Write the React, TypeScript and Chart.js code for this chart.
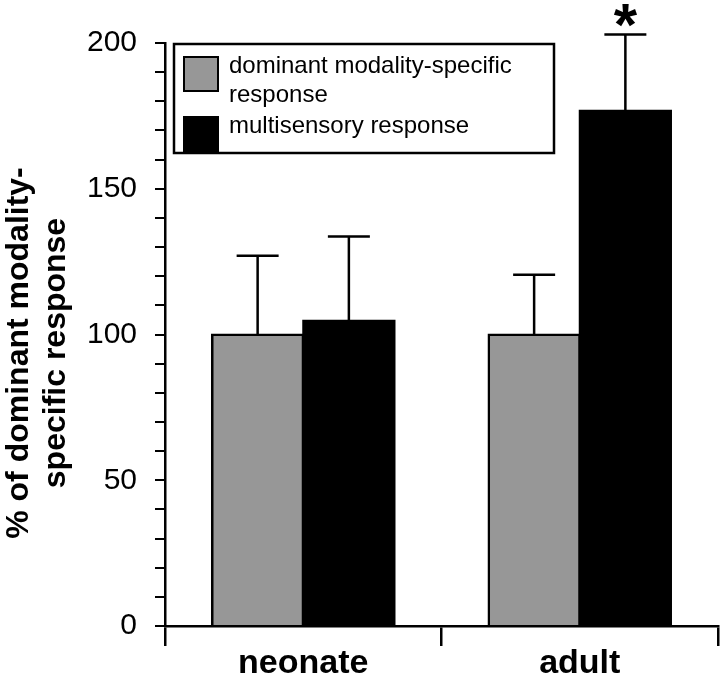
import React, { useEffect, useRef } from 'react';
import { Chart, registerables } from 'chart.js';

Chart.register(...registerables);

// ---- data ----
const categories = ['neonate', 'adult'];
const dominantValues = [100, 100];
const dominantErrors = [27, 20.5];
const multisensoryValues = [104.7, 176.8];
const multisensoryErrors = [28.9, 26.1];
const multisensorySignificant = [false, true];
const yLabelTicks = [0, 50, 100, 150, 200];
const legendLines = [['dominant modality-specific', 'response'], ['multisensory response']];
const yTitleLines = ['% of dominant modality-', 'specific response'];

const FONT = "'Liberation Sans', Arial, Helvetica, sans-serif";

const errorBarPlugin = {
  id: 'errorBars',
  afterDatasetsDraw(chart: any) {
    const ctx = chart.ctx;
    const y = chart.scales.y;
    chart.data.datasets.forEach((ds: any, di: number) => {
      const meta = chart.getDatasetMeta(di);
      meta.data.forEach((bar: any, i: number) => {
        const v = ds.data[i];
        const base = y.getPixelForValue(v);
        const top = y.getPixelForValue(v + ds.errors[i]);
        ctx.save();
        ctx.strokeStyle = '#000';
        ctx.lineWidth = 2.5;
        ctx.beginPath();
        ctx.moveTo(bar.x, base);
        ctx.lineTo(bar.x, top);
        ctx.moveTo(bar.x - 21, top);
        ctx.lineTo(bar.x + 21, top);
        ctx.stroke();
        if (ds.significant && ds.significant[i]) {
          ctx.fillStyle = '#000';
          ctx.font = `bold 60px ${FONT}`;
          ctx.textAlign = 'center';
          ctx.textBaseline = 'alphabetic';
          ctx.fillText('*', bar.x, top + 10);
        }
        ctx.restore();
      });
    });
  },
};

const legendPlugin = {
  id: 'boxLegend',
  afterDraw(chart: any, _args: any, opts: any) {
    const ctx = chart.ctx;
    ctx.save();
    ctx.strokeStyle = '#000';
    ctx.lineWidth = 2.5;
    ctx.fillStyle = '#fff';
    ctx.fillRect(opts.x, opts.y, opts.w, opts.h);
    ctx.strokeRect(opts.x, opts.y, opts.w, opts.h);
    ctx.font = `24px ${FONT}`;
    ctx.textAlign = 'left';
    ctx.textBaseline = 'alphabetic';
    let baseline = opts.y + 29;
    chart.data.datasets.forEach((ds: any, di: number) => {
      const sy = baseline - 16;
      ctx.fillStyle = ds.backgroundColor;
      ctx.fillRect(opts.x + 10, sy, 34, 34);
      ctx.lineWidth = 2;
      ctx.strokeRect(opts.x + 10, sy, 34, 34);
      ctx.fillStyle = '#000';
      legendLines[di].forEach((line, li) => {
        ctx.fillText(line, opts.x + 55, baseline + li * 29);
      });
      baseline += legendLines[di].length * 29 + 2;
    });
    ctx.restore();
  },
};

const yTitlePlugin = {
  id: 'yTitle',
  afterDraw(chart: any, _args: any, opts: any) {
    const ctx = chart.ctx;
    ctx.save();
    ctx.fillStyle = '#000';
    ctx.font = `bold 32px ${FONT}`;
    ctx.textAlign = 'center';
    ctx.textBaseline = 'alphabetic';
    yTitleLines.forEach((line, i) => {
      ctx.save();
      ctx.translate(opts.x + i * 37, opts.y);
      ctx.rotate(-Math.PI / 2);
      ctx.fillText(line, 0, 0);
      ctx.restore();
    });
    ctx.restore();
  },
};

export default function App() {
  const ref = useRef<HTMLCanvasElement>(null);
  useEffect(() => {
    if (!ref.current) return;
    const chart = new Chart(ref.current, {
      type: 'bar',
      data: {
        labels: categories,
        datasets: [
          {
            label: legendLines[0].join(' '),
            data: dominantValues,
            errors: dominantErrors,
            backgroundColor: '#979797',
            borderColor: '#000',
            borderWidth: 2.5,
            barPercentage: 1,
            categoryPercentage: 0.66,
            inflateAmount: 1,
          } as any,
          {
            label: legendLines[1].join(' '),
            data: multisensoryValues,
            errors: multisensoryErrors,
            significant: multisensorySignificant,
            backgroundColor: '#000',
            borderColor: '#000',
            borderWidth: 0,
            barPercentage: 1,
            categoryPercentage: 0.66,
            inflateAmount: 1,
          } as any,
        ],
      },
      options: {
        responsive: false,
        animation: false,
        layout: { padding: { top: 43, right: 2, left: 0, bottom: 0 } },
        plugins: {
          legend: { display: false },
          tooltip: { enabled: false },
          boxLegend: { x: 174, y: 44, w: 380, h: 109 },
          yTitle: { x: 28, y: 353 },
        } as any,
        scales: {
          x: {
            offset: true,
            grid: {
              offset: true,
              drawOnChartArea: false,
              drawTicks: true,
              tickLength: 20,
              color: '#000',
              lineWidth: 2.5,
            },
            border: { display: true, color: '#000', width: 2.5 },
            ticks: {
              color: '#000',
              font: { family: FONT, size: 34, weight: 'bold' },
              padding: -3,
            },
            afterFit: (s: any) => {
              s.height = 50;
            },
          },
          y: {
            min: 0,
            max: 200,
            grid: {
              drawOnChartArea: false,
              drawTicks: true,
              tickLength: 10,
              color: '#000',
              lineWidth: 2,
            },
            border: { display: true, color: '#000', width: 2.5 },
            ticks: {
              stepSize: 10,
              autoSkip: false,
              color: '#000',
              padding: 18,
              font: { family: FONT, size: 30 },
              callback: (v: any) => (yLabelTicks.includes(Number(v)) ? String(v) : ''),
            },
            afterFit: (s: any) => {
              s.width = 165;
            },
          },
        },
      },
      plugins: [errorBarPlugin, legendPlugin, yTitlePlugin],
    });
    return () => chart.destroy();
  }, []);
  return (
    <canvas
      ref={ref}
      width={720}
      height={676}
      style={{ position: 'absolute', left: 0, top: 0, display: 'block' }}
    />
  );
}
